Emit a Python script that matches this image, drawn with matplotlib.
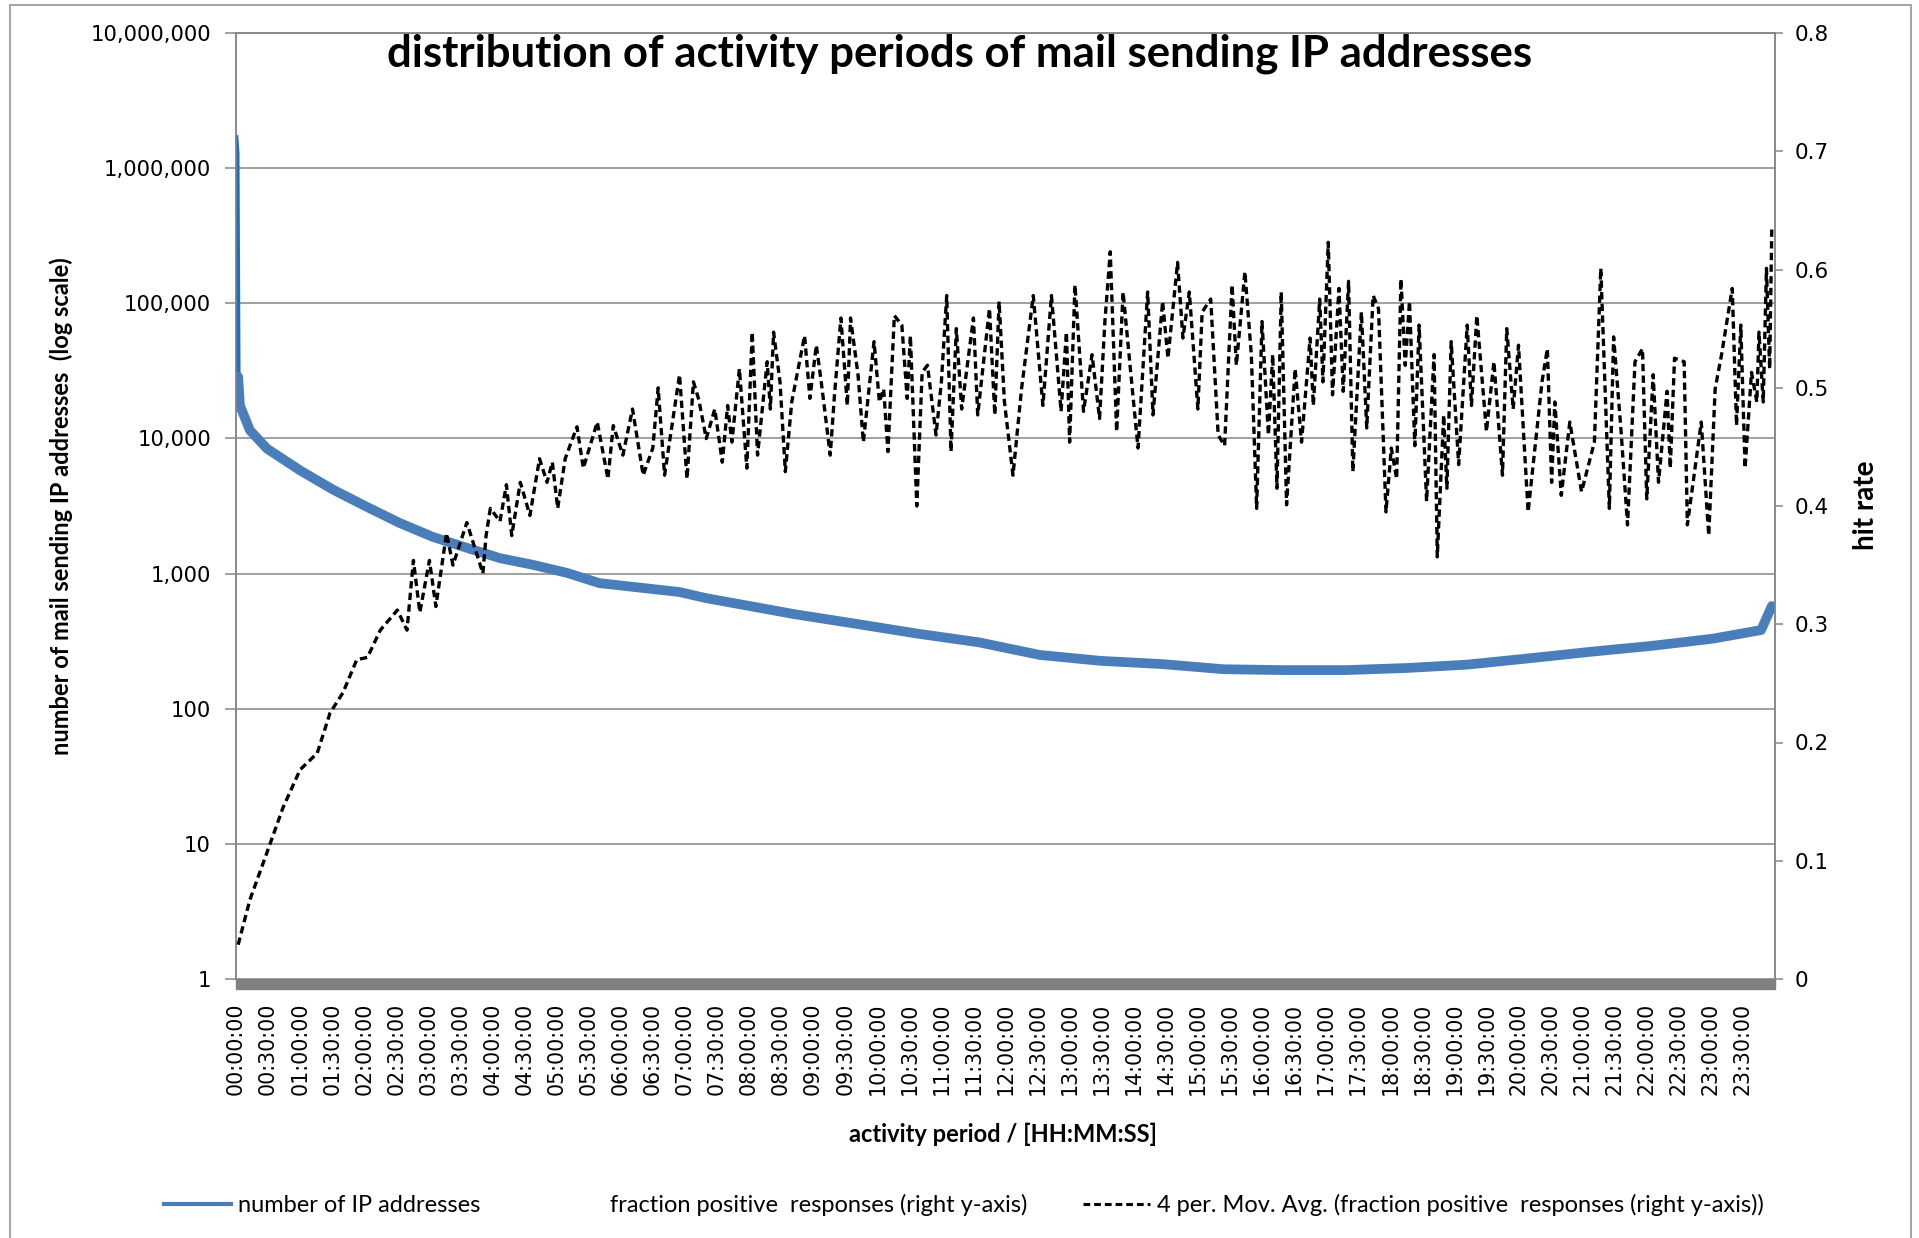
import matplotlib.pyplot as plt
from matplotlib.lines import Line2D
from matplotlib.patches import Rectangle
from matplotlib.ticker import FixedLocator, FuncFormatter, NullLocator

# number of IP addresses per activity period (minutes since 00:00:00)
ip_minutes = [0, 1, 2, 3.7, 13, 29, 60, 91, 123, 153, 184, 216, 247, 278, 310, 340,
              415, 439, 523, 580, 638, 695, 752, 809, 866, 924, 981, 1038, 1095,
              1152, 1210, 1268, 1325, 1382, 1427, 1437]
ip_counts = [1680000, 1300000, 28600, 17500, 11500, 8400, 5800, 4170, 3100, 2370,
             1870, 1550, 1300, 1160, 1010, 850, 730, 660, 500, 425, 359, 310, 250,
             226, 214, 196, 193, 193, 200, 212, 236, 264, 292, 330, 382, 575]

# 4 per. moving average of the hit rate (right axis)
hit_minutes = [2, 13, 29, 44, 60, 76, 88, 100, 113, 123, 135, 151, 160, 166, 172, 181,
               187, 197, 203, 216, 231, 234, 238, 247, 253, 258, 266, 275, 284, 291,
               296, 301, 308, 319, 325, 338, 348, 353, 362, 371, 381, 390, 395, 401,
               415, 422, 428, 433, 440, 448, 455, 460, 464, 471, 478, 483, 488, 497,
               500, 503, 509, 514, 520, 532, 537, 543, 548, 556, 560, 566, 572, 575,
               582, 587, 597, 602, 606, 610, 616, 623, 628, 631, 637, 642, 647, 655,
               660, 665, 669, 674, 679, 690, 694, 705, 710, 714, 719, 727, 735, 746,
               755, 763, 772, 777, 780, 785, 793, 801, 808, 813, 818, 824, 830, 838,
               844, 853, 858, 867, 872, 881, 886, 892, 900, 904, 912, 919, 925, 932,
               936, 944, 950, 955, 960, 966, 970, 974, 978, 983, 991, 997, 1005, 1008,
               1014, 1017, 1022, 1026, 1032, 1036, 1041, 1045, 1053, 1058, 1064, 1069,
               1076, 1081, 1086, 1090, 1094, 1098, 1103, 1107, 1114, 1121, 1124, 1130,
               1133, 1137, 1144, 1152, 1156, 1161, 1170, 1177, 1185, 1189, 1195, 1200,
               1209, 1222, 1227, 1231, 1234, 1240, 1248, 1259, 1271, 1277, 1285, 1289,
               1296, 1302, 1309, 1316, 1320, 1326, 1331, 1339, 1342, 1346, 1355, 1358,
               1371, 1378, 1384, 1390, 1400, 1404, 1408, 1412, 1418, 1423, 1425, 1429,
               1432, 1435, 1437]
hit_rate = [0.029, 0.067, 0.107, 0.145, 0.177, 0.191, 0.225, 0.242, 0.27, 0.272, 0.295,
            0.312, 0.295, 0.354, 0.31, 0.354, 0.315, 0.377, 0.35, 0.386, 0.343, 0.375,
            0.398, 0.387, 0.418, 0.375, 0.42, 0.392, 0.44, 0.42, 0.437, 0.398, 0.44,
            0.467, 0.432, 0.471, 0.423, 0.468, 0.443, 0.482, 0.426, 0.449, 0.5, 0.426,
            0.511, 0.423, 0.505, 0.49, 0.457, 0.482, 0.437, 0.485, 0.454, 0.516, 0.432,
            0.547, 0.443, 0.522, 0.482, 0.547, 0.505, 0.429, 0.488, 0.544, 0.491, 0.536,
            0.502, 0.443, 0.494, 0.559, 0.485, 0.559, 0.511, 0.454, 0.539, 0.488, 0.499,
            0.446, 0.561, 0.553, 0.491, 0.544, 0.40, 0.513, 0.519, 0.46, 0.505, 0.578,
            0.446, 0.55, 0.482, 0.559, 0.477, 0.567, 0.477, 0.573, 0.488, 0.426, 0.499,
            0.578, 0.485, 0.578, 0.48, 0.547, 0.454, 0.587, 0.48, 0.528, 0.474, 0.556,
            0.615, 0.463, 0.581, 0.505, 0.449, 0.581, 0.477, 0.573, 0.525, 0.606, 0.542,
            0.581, 0.482, 0.564, 0.575, 0.46, 0.451, 0.587, 0.519, 0.598, 0.528, 0.398,
            0.556, 0.46, 0.528, 0.415, 0.581, 0.401, 0.516, 0.454, 0.542, 0.485, 0.575,
            0.505, 0.623, 0.494, 0.584, 0.497, 0.59, 0.429, 0.564, 0.466, 0.578, 0.567,
            0.395, 0.449, 0.423, 0.592, 0.519, 0.573, 0.451, 0.553, 0.404, 0.528, 0.357,
            0.477, 0.415, 0.539, 0.435, 0.553, 0.485, 0.561, 0.463, 0.522, 0.426, 0.55,
            0.482, 0.536, 0.395, 0.505, 0.533, 0.42, 0.488, 0.409, 0.471, 0.412, 0.454,
            0.601, 0.398, 0.543, 0.463, 0.384, 0.522, 0.533, 0.406, 0.511, 0.42, 0.497,
            0.432, 0.525, 0.522, 0.384, 0.471, 0.375, 0.499, 0.528, 0.584, 0.468, 0.553,
            0.432, 0.513, 0.488, 0.547, 0.488, 0.601, 0.516, 0.635]

# category labels every 30 minutes
tick_minutes = list(range(0, 1440, 30))
tick_labels = [f"{m // 60:02d}:{m % 60:02d}:00" for m in tick_minutes]
left_ticks = [1, 10, 100, 1000, 10000, 100000, 1000000, 10000000]
right_ticks = [0, 0.1, 0.2, 0.3, 0.4, 0.5, 0.6, 0.7, 0.8]

W, H = 1919, 1238
fig = plt.figure(figsize=(W / 100, H / 100), dpi=100)
ax = fig.add_axes([236 / W, 1 - 979 / H, (1775 - 236) / W, (979 - 33) / H])
ax2 = ax.twinx()

grid_c = "#868686"
txt_font = ["Lato", "DejaVu Sans"]

ax.set_yscale("log")
ax.set_ylim(1, 1e7)
ax.set_xlim(0, 1440)
ax.yaxis.set_major_locator(FixedLocator(left_ticks))
ax.yaxis.set_minor_locator(NullLocator())
ax.yaxis.set_major_formatter(FuncFormatter(lambda v, p: f"{int(round(v)):,}"))
ax.grid(axis="y", color=grid_c, linewidth=1.1)
ax.set_axisbelow(True)

ax.set_xticks(tick_minutes)
ax.set_xticklabels(tick_labels, rotation=90, fontsize=14.8, family="DejaVu Sans")
ax.tick_params(axis="x", length=0, pad=17)
ax.tick_params(axis="y", length=8, width=1.1, color=grid_c, pad=10, labelsize=15.2)

ax2.set_ylim(0, 0.8)
ax2.set_yticks(right_ticks)
ax2.set_yticklabels(["0" if t == 0 else f"{t:.1f}" for t in right_ticks])
ax2.tick_params(axis="y", length=6, width=1.1, color=grid_c, pad=8, labelsize=15.5)

for a in (ax, ax2):
    for s in a.spines.values():
        s.set_color(grid_c)
        s.set_linewidth(1.1)
    a.spines["bottom"].set_visible(False)

# grey floor band under the plot area
ax.add_patch(Rectangle((0, -0.011), 1, 0.011, transform=ax.transAxes,
                       color="#808080", clip_on=False, zorder=5))

ax.plot(ip_minutes[:3], ip_counts[:3], color="#1f6fc0", linewidth=3.5, zorder=3)
ax.plot(ip_minutes[2:], ip_counts[2:], color="#4a7ebb", linewidth=7,
        solid_joinstyle="round", solid_capstyle="round", zorder=3)
ax2.plot(hit_minutes, hit_rate, color="black", linewidth=2.4,
         linestyle=(0, (2.2, 1.3)), zorder=4)

fig.text(960 / W, 1 - 54 / H, "distribution of activity periods of mail sending IP addresses",
         ha="center", va="center", fontsize=31.5, fontweight="bold", family=txt_font)
fig.text(61 / W, 1 - 506 / H, "number of mail sending IP addresses  (log scale)",
         rotation=90, ha="center", va="center", fontsize=17, fontweight="bold",
         family=txt_font)
fig.text(1866 / W, 1 - 505 / H, "hit rate", rotation=90, ha="center", va="center",
         fontsize=20, fontweight="bold", family=txt_font)
fig.text(1003 / W, 1 - 1134 / H, "activity period / [HH:MM:SS]", ha="center",
         va="center", fontsize=17, fontweight="bold", family=txt_font)

handles = [
    Line2D([], [], color="#4a7ebb", linewidth=3),
    Line2D([], [], color="none"),
    Line2D([], [], color="black", linewidth=2.2, linestyle=(0, (2.2, 1.3))),
]
labels = [
    "number of IP addresses",
    "fraction positive  responses (right y-axis)",
    "4 per. Mov. Avg. (fraction positive  responses (right y-axis))",
]
fig.legend(handles, labels, loc="center", bbox_to_anchor=(964 / W, 1 - 1205 / H),
           ncol=3, frameon=False, prop={"family": txt_font, "size": 17},
           handlelength=2.85, handletextpad=0.3, columnspacing=2.35)

# chart area border
fig.add_artist(Rectangle((10 / W, -0.01), (1911 - 10) / W, 1 - 5 / H + 0.01,
                         transform=fig.transFigure, fill=False,
                         edgecolor="#a6a6a6", linewidth=1.5))

fig.savefig("out.png", dpi=100)
